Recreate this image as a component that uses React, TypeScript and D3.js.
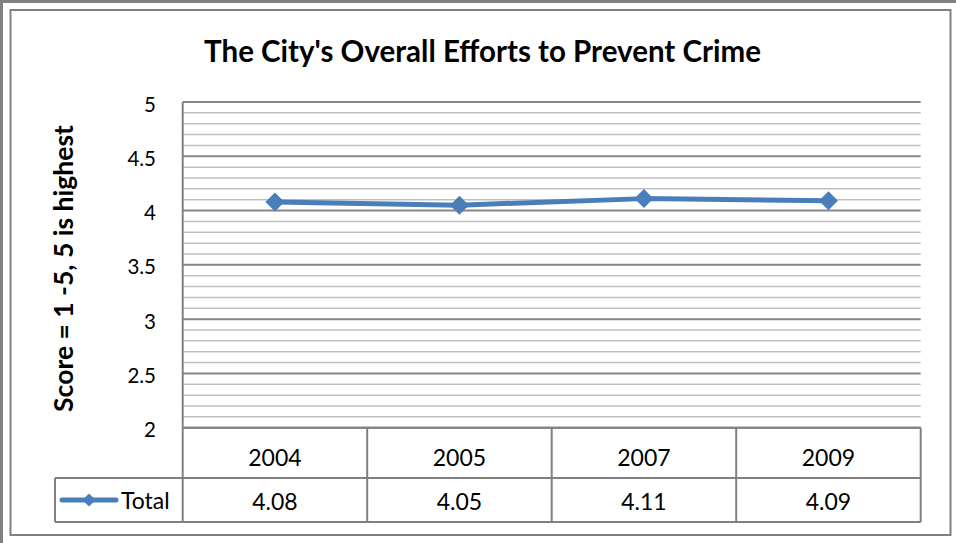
import React from "react";
import * as d3 from "d3";

const title = "The City's Overall Efforts to Prevent Crime";
const yAxisLabel = "Score = 1 -5, 5 is highest";
const categories = ["2004", "2005", "2007", "2009"];
const seriesName = "Total";
const totalValues = [4.08, 4.05, 4.11, 4.09];
const yTicks = [2, 2.5, 3, 3.5, 4, 4.5, 5];
const yMinorStep = 0.1;

const W = 956;
const H = 543;
const plotLeft = 182.7;
const plotRight = 920.7;
const plotTop = 102;
const plotBottom = 427.7;
const headerBottom = 478;
const tableBottom = 522;
const legendLeft = 55;

const FONT = "Lato, 'Open Sans', sans-serif";
const GRID_MAJOR = "#868686";
const GRID_MINOR = "#BFBFBF";
const BORDER = "#808080";
const BLUE = "#4A7EBB";

export default function App() {
  const y = d3.scaleLinear().domain([2, 5]).range([plotBottom, plotTop]);
  const x = d3.scaleBand<string>().domain(categories).range([plotLeft, plotRight]);
  const minorTicks = d3.range(2, 5.0001, yMinorStep).filter(
    (v) => !yTicks.some((t) => Math.abs(t - v) < 1e-6)
  );
  const line = d3
    .line<number>()
    .x((_, i) => x(categories[i])! + x.bandwidth() / 2)
    .y((d) => y(d));
  const diamond = (cx: number, cy: number, r: number) =>
    `M${cx},${cy - r}L${cx + r},${cy}L${cx},${cy + r}L${cx - r},${cy}Z`;

  return (
    <svg
      width={W}
      height={H}
      style={{ position: "absolute", left: 0, top: 0, background: "#fff" }}
    >
      <rect x={0} y={0} width={W} height={H} fill="#fff" />
      {/* outer frame (top/left) */}
      <line x1={0} x2={W} y1={1.5} y2={1.5} stroke={BORDER} strokeWidth={3} />
      <line x1={1.5} x2={1.5} y1={0} y2={H} stroke={BORDER} strokeWidth={3} />
      {/* inner chart border */}
      <rect x={10.5} y={10} width={940} height={525} fill="none" stroke={BORDER} strokeWidth={2} />

      <text
        x={482.5}
        y={50}
        textAnchor="middle"
        dominantBaseline="central"
        fontFamily={FONT}
        fontWeight="bold"
        fontSize={29.5}
        fill="#000"
      >
        {title}
      </text>

      {/* minor gridlines */}
      {minorTicks.map((v, i) => (
        <line
          key={"m" + i}
          x1={plotLeft}
          x2={plotRight}
          y1={y(v)}
          y2={y(v)}
          stroke={GRID_MINOR}
          strokeWidth={1.5}
        />
      ))}
      {/* major gridlines */}
      {yTicks.map((v) => (
        <line
          key={"M" + v}
          x1={plotLeft}
          x2={plotRight}
          y1={y(v)}
          y2={y(v)}
          stroke={GRID_MAJOR}
          strokeWidth={2}
        />
      ))}
      {/* y tick labels */}
      {yTicks.map((v) => (
        <text
          key={"t" + v}
          x={156}
          y={y(v) + 1.5}
          textAnchor="end"
          dominantBaseline="central"
          fontFamily={FONT}
          fontSize={20.5}
          fill="#000"
        >
          {String(v)}
        </text>
      ))}

      <text
        transform={`translate(63,268.5) rotate(-90)`}
        textAnchor="middle"
        dominantBaseline="central"
        fontFamily={FONT}
        fontWeight="bold"
        fontSize={26.5}
        fill="#000"
      >
        {yAxisLabel}
      </text>

      {/* data table */}
      <g stroke={BORDER} strokeWidth={2}>
        <line x1={plotLeft} x2={plotRight} y1={plotBottom} y2={plotBottom} />
        <line x1={legendLeft} x2={plotRight} y1={headerBottom} y2={headerBottom} />
        <line x1={legendLeft} x2={plotRight} y1={tableBottom} y2={tableBottom} />
        <line x1={legendLeft} x2={legendLeft} y1={headerBottom} y2={tableBottom} />
        <line x1={plotLeft} x2={plotLeft} y1={plotTop} y2={tableBottom} />
        {categories.map((c) => (
          <line
            key={"v" + c}
            x1={x(c)! + x.bandwidth()}
            x2={x(c)! + x.bandwidth()}
            y1={plotBottom}
            y2={tableBottom}
          />
        ))}
      </g>
      {categories.map((c, i) => (
        <g key={"c" + c} fontFamily={FONT} fontSize={23} fill="#000" textAnchor="middle">
          <text x={x(c)! + x.bandwidth() / 2} y={457} dominantBaseline="central">
            {c}
          </text>
          <text x={x(c)! + x.bandwidth() / 2} y={501} dominantBaseline="central">
            {totalValues[i].toFixed(2)}
          </text>
        </g>
      ))}

      {/* legend key */}
      <line x1={62} x2={116} y1={500} y2={500} stroke={BLUE} strokeWidth={5} strokeLinecap="round" />
      <path d={diamond(89, 500, 6.5)} fill={BLUE} />
      <text x={121} y={500} dominantBaseline="central" fontFamily={FONT} fontSize={23} fill="#000">
        {seriesName}
      </text>

      {/* series */}
      <path d={line(totalValues) || ""} fill="none" stroke={BLUE} strokeWidth={5} strokeLinejoin="round" />
      {totalValues.map((v, i) => (
        <path
          key={"d" + i}
          d={diamond(x(categories[i])! + x.bandwidth() / 2, y(v), 9.5)}
          fill={BLUE}
        />
      ))}
    </svg>
  );
}
